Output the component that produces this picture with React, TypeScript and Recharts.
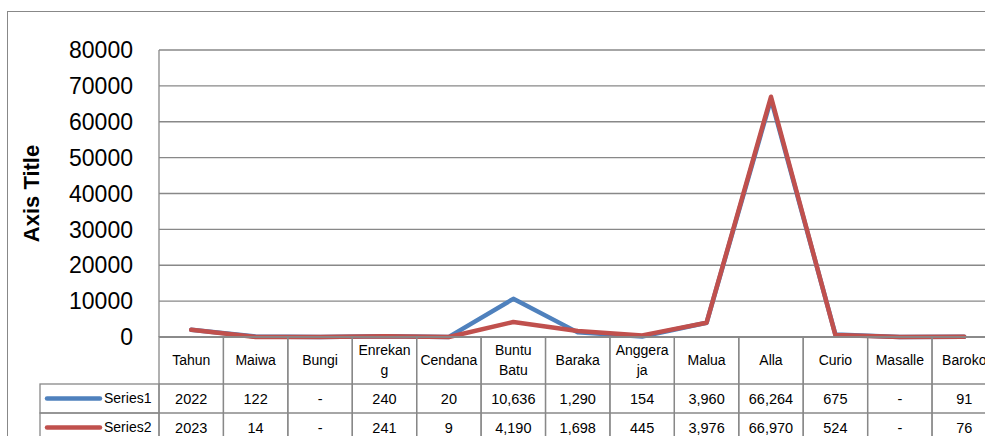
import React from 'react';
import { LineChart, Line, XAxis, YAxis, CartesianGrid } from 'recharts';

const categories = ['Tahun', 'Maiwa', 'Bungi', 'Enrekang', 'Cendana', 'Buntu Batu', 'Baraka', 'Anggeraja', 'Malua', 'Alla', 'Curio', 'Masalle', 'Baroko'];
// how Excel wrapped the header cells
const headerLines: string[][] = [['Tahun'], ['Maiwa'], ['Bungi'], ['Enrekan', 'g'], ['Cendana'], ['Buntu', 'Batu'], ['Baraka'], ['Anggera', 'ja'], ['Malua'], ['Alla'], ['Curio'], ['Masalle'], ['Baroko']];
const series1 = [2022, 122, 0, 240, 20, 10636, 1290, 154, 3960, 66264, 675, 0, 91];
const series2 = [2023, 14, 0, 241, 9, 4190, 1698, 445, 3976, 66970, 524, 0, 76];
const seriesNames = ['Series1', 'Series2'];
const yTicks = [0, 10000, 20000, 30000, 40000, 50000, 60000, 70000, 80000];

const data = categories.map((name, i) => ({ name, s1: series1[i], s2: series2[i] }));

const W = 1010;
const H = 460;
const PLOT_LEFT = 159;
const PLOT_TOP = 50;
const PLOT_BOTTOM = 337;
const COL = 64.42;
const PLOT_RIGHT = PLOT_LEFT + COL * categories.length;
const HEAD_H = 47;
const ROW_H = 29;
const GRID = '#888888';
const BLUE = '#4F81BD';
const RED = '#C0504D';
const FONT = '"Liberation Sans", Arial, sans-serif';

const fmt = (v: number, i: number) => {
  if (i === 0) return String(v);
  if (v === 0) return '-';
  return v.toLocaleString('en-US');
};

const TableTick = (props: any) => {
  const { x, payload } = props;
  const i = payload.index;
  const left = x - COL / 2;
  const lines = headerLines[i] || [payload.value];
  const headMid = PLOT_BOTTOM + HEAD_H / 2;
  const lineH = 20;
  const firstY = headMid - ((lines.length - 1) * lineH) / 2;
  const rows = [series1, series2];
  return (
    <g fontFamily={FONT}>
      <rect x={left} y={PLOT_BOTTOM} width={COL} height={HEAD_H + ROW_H * 2} fill="none" stroke={GRID} strokeWidth={1.3} />
      {rows.map((_, r) => (
        <line key={r} x1={left} x2={left + COL} y1={PLOT_BOTTOM + HEAD_H + ROW_H * r} y2={PLOT_BOTTOM + HEAD_H + ROW_H * r} stroke={GRID} strokeWidth={1.3} />
      ))}
      {lines.map((t, k) => (
        <text key={k} x={x} y={firstY + k * lineH} dy="0.35em" textAnchor="middle" fontSize={14} fill="#000">{t}</text>
      ))}
      {rows.map((arr, r) => (
        <text key={'v' + r} x={x} y={PLOT_BOTTOM + HEAD_H + ROW_H * r + ROW_H / 2} dy="0.35em" textAnchor="middle" fontSize={14.5} fill="#000">
          {fmt(arr[i], i)}
        </text>
      ))}
    </g>
  );
};

export default function App() {
  const legendLeft = 40;
  const rowTop = PLOT_BOTTOM + HEAD_H;
  return (
    <div style={{ position: 'fixed', left: 0, top: 0, width: 985, height: 436, overflow: 'hidden', background: '#fff' }}>
      <div style={{ position: 'absolute', left: 7, top: 11, width: 1200, height: 600, border: `1px solid ${GRID}` }} />
      <div style={{ position: 'absolute', left: 0, top: 0 }}>
        <LineChart width={W} height={H} data={data} margin={{ top: PLOT_TOP, right: W - PLOT_RIGHT, bottom: 0, left: 0 }}>
          <CartesianGrid vertical={false} stroke={GRID} strokeWidth={1.3} />
          <XAxis
            dataKey="name"
            padding={{ left: COL / 2, right: COL / 2 }}
            axisLine={{ stroke: GRID, strokeWidth: 1.3 }}
            tickLine={false}
            tickSize={0}
            interval={0}
            height={H - PLOT_BOTTOM}
            tick={<TableTick />}
          />
          <YAxis
            domain={[0, 80000]}
            ticks={yTicks}
            width={PLOT_LEFT}
            axisLine={{ stroke: GRID, strokeWidth: 1.3 }}
            tickLine={false}
            tickSize={0}
            tickMargin={26}
            tick={{ fontSize: 23, fill: '#000', fontFamily: FONT }}
          />
          <Line dataKey="s1" name={seriesNames[0]} stroke={BLUE} strokeWidth={4.5} dot={false} strokeLinejoin="round" strokeLinecap="round" isAnimationActive={false} />
          <Line dataKey="s2" name={seriesNames[1]} stroke={RED} strokeWidth={4.5} dot={false} strokeLinejoin="round" strokeLinecap="round" isAnimationActive={false} />
        </LineChart>
      </div>
      <svg style={{ position: 'absolute', left: 0, top: 0 }} width={W} height={H} fontFamily={FONT}>
        <text x={31} y={(PLOT_TOP + PLOT_BOTTOM) / 2} transform={`rotate(-90 31 ${(PLOT_TOP + PLOT_BOTTOM) / 2})`} textAnchor="middle" dy="0.35em" fontSize={22} fontWeight="bold" fill="#000">
          Axis Title
        </text>
        {seriesNames.map((n, r) => {
          const y = rowTop + ROW_H * r;
          return (
            <g key={n}>
              <rect x={legendLeft} y={y} width={PLOT_LEFT - legendLeft} height={ROW_H} fill="none" stroke={GRID} strokeWidth={1.3} />
              <line x1={47} x2={100} y1={y + ROW_H / 2} y2={y + ROW_H / 2} stroke={r === 0 ? BLUE : RED} strokeWidth={4.5} strokeLinecap="round" />
              <text x={104} y={y + ROW_H / 2} dy="0.35em" fontSize={14} fill="#000">{n}</text>
            </g>
          );
        })}
      </svg>
    </div>
  );
}
